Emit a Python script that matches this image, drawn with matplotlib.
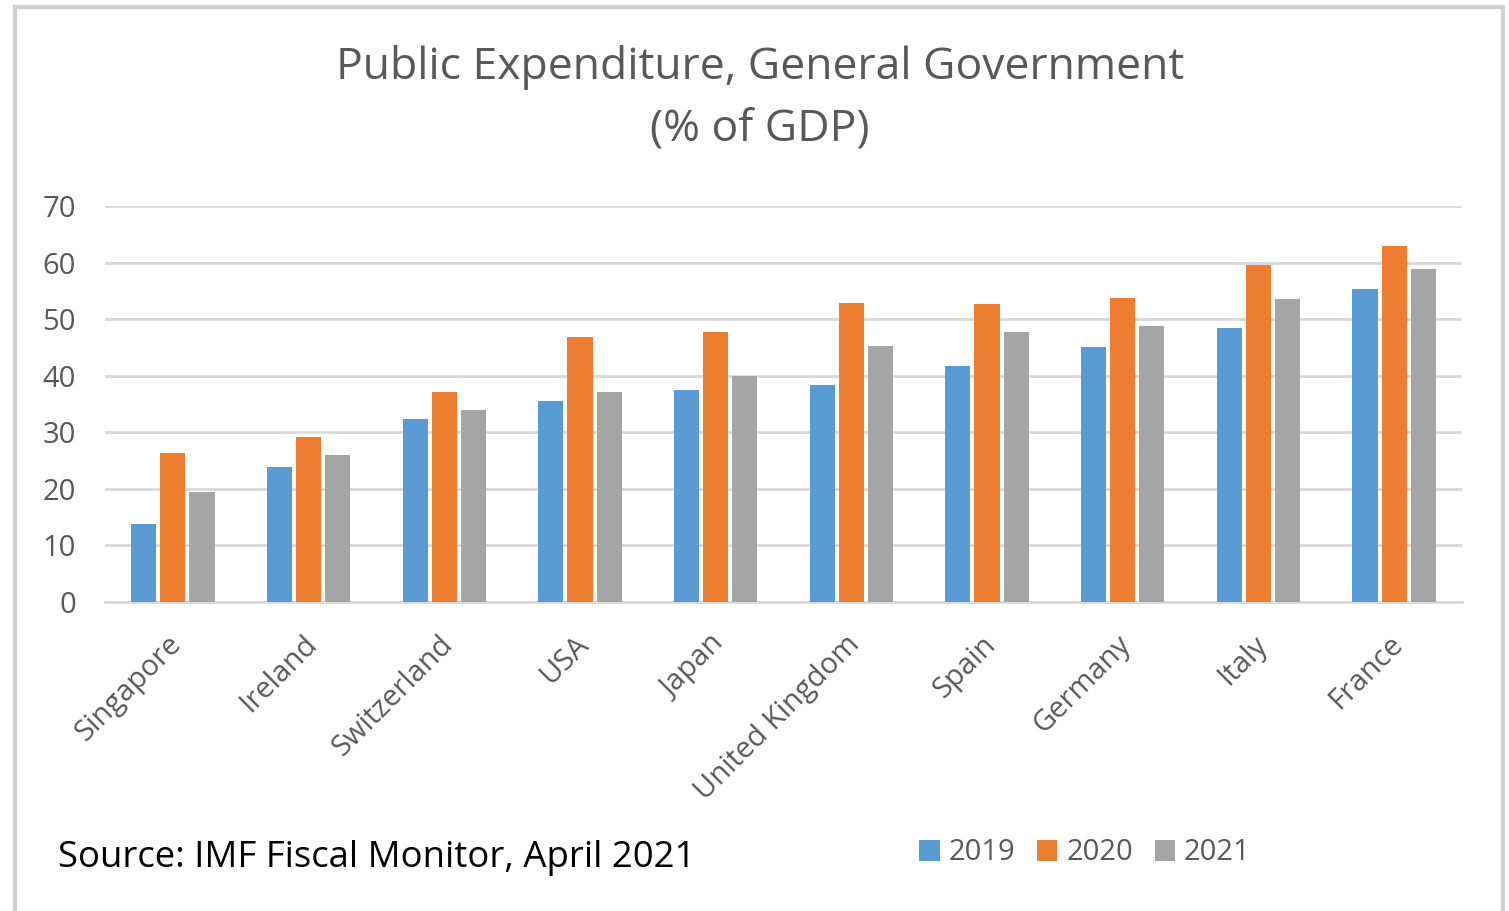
import matplotlib.pyplot as plt
import numpy as np
from matplotlib.patches import Rectangle
from matplotlib.transforms import ScaledTranslation

COUNTRIES = ["Singapore", "Ireland", "Switzerland", "USA", "Japan",
             "United Kingdom", "Spain", "Germany", "Italy", "France"]
YEARS = ["2019", "2020", "2021"]
EXP_2019 = [13.8, 23.9, 32.4, 35.5, 37.4, 38.4, 41.8, 45.0, 48.5, 55.4]
EXP_2020 = [26.4, 29.2, 37.1, 46.9, 47.8, 52.9, 52.6, 53.8, 59.5, 62.9]
EXP_2021 = [19.5, 26.0, 33.9, 37.1, 40.0, 45.3, 47.8, 48.8, 53.5, 58.9]
Y_TICKS = [0, 10, 20, 30, 40, 50, 60, 70]

COLORS = ["#5B9BD5", "#ED7D31", "#A5A5A5"]
TEXT_GRAY = "#595959"
GRID_GRAY = "#D9D9D9"
FONT = ["Open Sans", "DejaVu Sans"]

plt.rcParams["font.family"] = FONT

fig = plt.figure(figsize=(15.09, 9.11), dpi=100)
ax = fig.add_axes([105 / 1509, 1 - 602 / 911, (1462 - 105) / 1509, (602 - 206) / 911])

x = np.arange(len(COUNTRIES))
width = 0.185
step = 0.215
for i, (vals, year) in enumerate(zip([EXP_2019, EXP_2020, EXP_2021], YEARS)):
    ax.bar(x + (i - 1) * step, vals, width, color=COLORS[i], label=year, zorder=3)

ax.set_xlim(-0.5, len(COUNTRIES) - 0.5)
ax.set_ylim(0, 70)
ax.set_yticks(Y_TICKS)
ax.yaxis.grid(True, color=GRID_GRAY, linewidth=2, zorder=0)
ax.set_axisbelow(True)
for side in ["top", "right", "left"]:
    ax.spines[side].set_visible(False)
ax.spines["bottom"].set_color(GRID_GRAY)
ax.spines["bottom"].set_linewidth(2)
ax.tick_params(axis="y", length=0, pad=21, labelsize=21, labelcolor=TEXT_GRAY)
ax.tick_params(axis="x", length=0, pad=20, labelsize=21, labelcolor=TEXT_GRAY)
ax.set_xticks(x)
ax.set_xticklabels(COUNTRIES, rotation=45, ha="right", va="top", rotation_mode="anchor")
# nudge the slanted labels a little to the left
shift = ScaledTranslation(-6 / 100, 0, fig.dpi_scale_trans)
for lbl in ax.get_xticklabels():
    lbl.set_transform(lbl.get_transform() + shift)

fig.text(760 / 1509, 1 - 68 / 911, "Public Expenditure, General Government",
         ha="center", va="center", fontsize=32, color=TEXT_GRAY)
fig.text(760 / 1509, 1 - 130 / 911, "(% of GDP)",
         ha="center", va="center", fontsize=32, color=TEXT_GRAY)
fig.text(58 / 1509, 1 - 858 / 911, "Source: IMF Fiscal Monitor, April 2021",
         ha="left", va="center", fontsize=26.3, color="black")

fig.legend(loc="center left", bbox_to_anchor=(893 / 1509, 1 - 853 / 911), ncol=3,
           frameon=False, fontsize=21, labelcolor=TEXT_GRAY, handlelength=0.7,
           handleheight=0.7, handletextpad=0.3, columnspacing=0.75)

# light frame around the whole chart
fig.patches.append(Rectangle((15 / 1509, -0.01), (1503 - 15) / 1509, 1 - 7 / 911 + 0.01,
                             transform=fig.transFigure, fill=False,
                             edgecolor="#D0D0D0", linewidth=3))

fig.savefig("out.png", dpi=100)
